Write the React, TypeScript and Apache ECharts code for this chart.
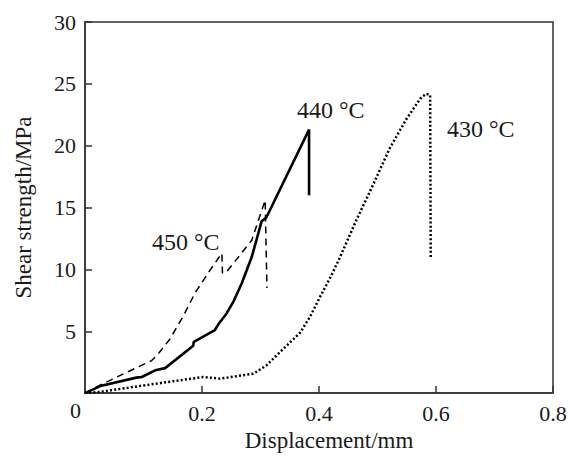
import React, { useEffect, useRef } from "react";
import * as echarts from "echarts";

const xTicks = [0, 0.2, 0.4, 0.6, 0.8];
const yTicks = [0, 5, 10, 15, 20, 25, 30];

const series440: [number, number][] = [
  [0, 0], [0.028, 0.6], [0.088, 1.25], [0.097, 1.3], [0.12, 1.84], [0.137, 2.02],
  [0.185, 3.83], [0.186, 4.15], [0.222, 5.1], [0.228, 5.56], [0.242, 6.44],
  [0.254, 7.42], [0.268, 8.88], [0.285, 11.0], [0.302, 13.9], [0.31, 14.2],
  [0.383, 21.3], [0.383, 16.0],
];

const series450: [number, number][] = [
  [0, 0], [0.031, 0.77], [0.114, 2.63], [0.125, 3.16], [0.145, 4.36], [0.168, 6.22],
  [0.188, 8.09], [0.214, 9.95], [0.228, 10.9], [0.234, 11.3], [0.235, 9.7],
  [0.242, 9.8], [0.285, 12.35], [0.308, 15.6], [0.311, 8.5],
];

const series430: [number, number][] = [
  [0, 0], [0.026, 0.1], [0.083, 0.5], [0.151, 0.96], [0.202, 1.3], [0.231, 1.17],
  [0.288, 1.57], [0.31, 2.23], [0.333, 3.3], [0.368, 4.9], [0.385, 6.2],
  [0.402, 7.8], [0.42, 9.4], [0.436, 11.0], [0.465, 14.1], [0.493, 16.9],
  [0.521, 19.8], [0.55, 22.2], [0.573, 23.8], [0.583, 24.2], [0.59, 24.1],
  [0.591, 11.0],
];

const seriesNames = ["440 °C", "450 °C", "430 °C"];
const xName = "Displacement/mm";
const yName = "Shear strength/MPa";

const FONT = "Liberation Serif";
const INK = "#1a1a1a";

export default function App() {
  const ref = useRef<HTMLDivElement>(null);
  useEffect(() => {
    if (!ref.current) return;
    const chart = echarts.init(ref.current, undefined, { renderer: "svg" });
    chart.setOption({
      animation: false,
      backgroundColor: "#ffffff",
      textStyle: { fontFamily: FONT },
      grid: {
        left: 85, top: 22, right: 18, bottom: 59,
        show: true, borderColor: "#333", borderWidth: 1.5,
      },
      xAxis: {
        type: "value", min: xTicks[0], max: xTicks[xTicks.length - 1], interval: 0.2,
        name: xName, nameLocation: "middle", nameGap: 33,
        nameTextStyle: { fontFamily: FONT, fontSize: 23, color: INK, padding: [0, 0, 0, 20] },
        axisLine: { lineStyle: { color: "#333", width: 1.5 } },
        axisTick: { inside: true, length: 7, lineStyle: { color: "#333", width: 1.5 } },
        axisLabel: {
          showMinLabel: false, margin: 9, fontFamily: FONT, fontSize: 22, color: INK,
          formatter: (v: number) => String(Math.round(v * 10) / 10),
        },
        splitLine: { show: false },
      },
      yAxis: {
        type: "value", min: yTicks[0], max: yTicks[yTicks.length - 1], interval: 5,
        name: yName, nameLocation: "middle", nameGap: 50, nameRotate: 90,
        nameTextStyle: { fontFamily: FONT, fontSize: 23, color: INK },
        axisLine: { lineStyle: { color: "#333", width: 1.5 } },
        axisTick: { inside: true, length: 7, lineStyle: { color: "#333", width: 1.5 } },
        axisLabel: { showMinLabel: false, margin: 9, fontFamily: FONT, fontSize: 22, color: INK, padding: [6, 0, 0, 0] },
        splitLine: { show: false },
      },
      series: [
        {
          name: seriesNames[0], type: "line", data: series440, showSymbol: false,
          lineStyle: { color: "#000", width: 2.6, type: "solid" },
        },
        {
          name: seriesNames[1], type: "line", data: series450, showSymbol: false,
          lineStyle: { color: "#000", width: 1.5, type: [7, 5] },
        },
        {
          name: seriesNames[2], type: "line", data: series430, showSymbol: false,
          lineStyle: { color: "#000", width: 2.5, type: [2, 2.2] },
        },
      ],
      graphic: [
        { type: "text", left: 70, top: 399, style: { text: "0", fontFamily: FONT, fontSize: 22, fill: INK } },
        { type: "text", x: 297, y: 110, style: { text: seriesNames[0], fontFamily: FONT, fontSize: 24, fill: INK, verticalAlign: "middle" } },
        { type: "text", x: 152, y: 242, style: { text: seriesNames[1], fontFamily: FONT, fontSize: 24, fill: INK, verticalAlign: "middle" } },
        { type: "text", x: 447, y: 129, style: { text: seriesNames[2], fontFamily: FONT, fontSize: 24, fill: INK, verticalAlign: "middle" } },
      ],
    });
    return () => chart.dispose();
  }, []);
  return <div ref={ref} style={{ width: 571, height: 457, position: "absolute", left: 0, top: 0 }} />;
}
